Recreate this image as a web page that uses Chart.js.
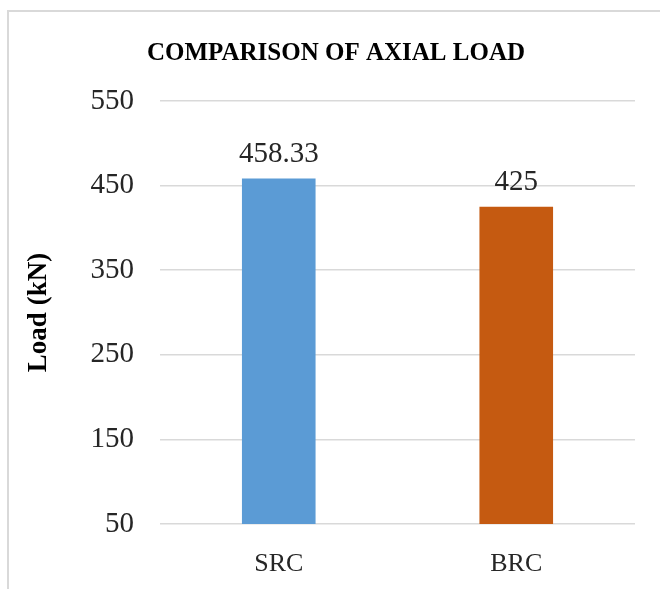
<!DOCTYPE html>
<html>
<head>
<meta charset="utf-8">
<script src="https://cdn.jsdelivr.net/npm/chart.js@4"></script>
<style>
  html, body { margin: 0; padding: 0; background: #fff; }
  #frame {
    position: absolute; left: 7px; top: 10px; width: 653px; height: 579px;
    border-left: 2px solid #d9d9d9; border-top: 2px solid #d9d9d9; box-sizing: border-box;
  }
  #wrap { position: absolute; left: 0; top: 0; width: 651px; height: 577px; }
</style>
</head>
<body>
<div id="frame"><div id="wrap"><canvas id="myChart"></canvas></div></div>
<script>
// data
const categories = ["SRC", "BRC"];
const loads = [458.33, 425];
const barColors = ["#5b9bd5", "#c55a11"];
const valueLabels = ["458.33", "425"];
const yTicks = [50, 150, 250, 350, 450, 550];

const serif = "'Liberation Serif', 'DejaVu Serif', serif";

// labels above the bars
const barLabels = {
  id: "barLabels",
  afterDatasetsDraw(chart) {
    const ctx = chart.ctx;
    const meta = chart.getDatasetMeta(0);
    ctx.save();
    ctx.font = "29px " + serif;
    ctx.fillStyle = "#262626";
    ctx.textAlign = "center";
    ctx.textBaseline = "alphabetic";
    meta.data.forEach((bar, i) => {
      ctx.fillText(valueLabels[i], bar.x, bar.y - 17);
    });
    ctx.restore();
  }
};

const config = {
  type: "bar",
  data: {
    labels: categories,
    datasets: [{
      data: loads,
      backgroundColor: barColors,
      barPercentage: 0.31,
      categoryPercentage: 1
    }]
  },
  options: {
    responsive: true,
    maintainAspectRatio: false,
    animation: false,
    layout: { padding: { left: 28, right: 25, top: 0, bottom: 0 } },
    plugins: {
      legend: { display: false },
      tooltip: { enabled: false },
      title: {
        display: true,
        text: "COMPARISON OF AXIAL LOAD",
        color: "#000",
        font: { family: serif, size: 25, weight: "bold", lineHeight: 1.2 },
        padding: { top: 27, bottom: 32 }
      }
    },
    scales: {
      x: {
        grid: { display: false },
        border: { display: false },
        afterFit(axis) { axis.height = 65; },
        ticks: { color: "#262626", font: { family: serif, size: 26 }, padding: 17 }
      },
      y: {
        min: 50,
        max: 550,
        afterBuildTicks(axis) { axis.ticks = yTicks.map(v => ({ value: v })); },
        afterFit(axis) { axis.width = 123; },
        grid: { color: "#d9d9d9", lineWidth: 1.5, drawTicks: false },
        border: { display: false },
        ticks: { color: "#262626", font: { family: serif, size: 29 }, padding: 26 },
        title: {
          display: true,
          text: "Load (kN)",
          color: "#000",
          font: { family: serif, size: 27, weight: "bold", lineHeight: 1.2 },
          padding: { top: -14, bottom: 0 }
        }
      }
    }
  },
  plugins: [barLabels]
};

new Chart(document.getElementById("myChart"), config);
</script>
</body>
</html>
